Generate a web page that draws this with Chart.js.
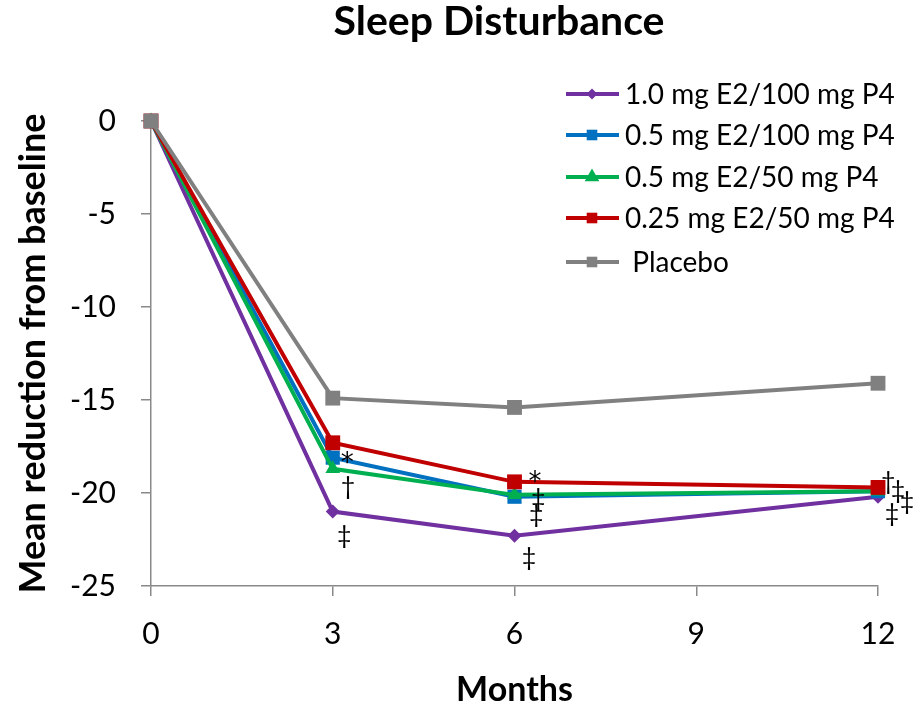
<!DOCTYPE html>
<html>
<head>
<meta charset="utf-8">
<script src="https://cdn.jsdelivr.net/npm/chart.js@4.4.1/dist/chart.umd.min.js"></script>
<style>
  html, body { margin: 0; padding: 0; background: #fff; }
  #wrap { width: 920px; height: 707px; }
</style>
</head>
<body>
<div id="wrap"><canvas id="c" width="920" height="707"></canvas></div>
<script>
// Months of follow-up
const months = [0, 3, 6, 12];

// Mean reduction from baseline per treatment group
const e2_10_p4_100 = [0, -21.0, -22.3, -20.2];
const e2_05_p4_100 = [0, -18.1, -20.2, -19.9];
const e2_05_p4_50  = [0, -18.7, -20.1, -19.9];
const e2_025_p4_50 = [0, -17.3, -19.4, -19.7];
const placebo      = [0, -14.9, -15.4, -14.1];

const seriesNames = [
  '1.0 mg E2/100 mg P4',
  '0.5 mg E2/100 mg P4',
  '0.5 mg E2/50 mg P4',
  '0.25 mg E2/50 mg P4',
  ' Placebo'
];

// Axis ticks
const monthTicks = [0, 3, 6, 9, 12];
const valueTicks = [0, -5, -10, -15, -20, -25];

// Significance marks: [month, value, symbol]
const sigMarks = [
  [3.24, -18.2, '*'], [3.25, -19.7, '†'], [3.19, -22.3, '‡'],
  [6.34, -19.2, '*'], [6.39, -20.3, '‡'], [6.36, -21.2, '‡'], [6.24, -23.5, '‡'],
  [12.17, -19.4, '†'], [12.33, -19.9, '‡'], [12.48, -20.5, '‡'], [12.23, -21.1, '‡']
];

const FONT = 'Lato, "Open Sans", "Liberation Sans", sans-serif';

// marker style per group: plot radius and legend radius
const styles = [
  { color: '#7030A0', point: 'rectRot',  radius: 7,   legendRadius: 5.5 },
  { color: '#0070C0', point: 'rect',     radius: 10,  legendRadius: 7.5 },
  { color: '#00B050', point: 'triangle', radius: 8.5, legendRadius: 8.5 },
  { color: '#C00000', point: 'rect',     radius: 10.5, legendRadius: 7.5 },
  { color: '#808080', point: 'rect',     radius: 10.5, legendRadius: 7.5 }
];

const allSeries = [e2_10_p4_100, e2_05_p4_100, e2_05_p4_50, e2_025_p4_50, placebo];

const datasets = allSeries.map((vals, i) => ({
  label: seriesNames[i],
  data: months.map((m, j) => ({ x: m, y: vals[j] })),
  borderColor: styles[i].color,
  backgroundColor: styles[i].color,
  borderWidth: 4,
  pointStyle: styles[i].point,
  pointRadius: styles[i].radius,
  pointHoverRadius: styles[i].radius,
  pointBorderWidth: 0,
  tension: 0,
  clip: false,
  order: allSeries.length - i   // later groups are painted on top
}));

// Title, legend and significance marks
const decorations = {
  id: 'decorations',
  afterDatasetsDraw(chart) {
    const { ctx, scales: { x, y } } = chart;
    ctx.save();
    ctx.fillStyle = '#000';
    ctx.textAlign = 'center';
    ctx.textBaseline = 'middle';
    sigMarks.forEach(([m, v, s]) => {
      const px = x.getPixelForValue(m), py = y.getPixelForValue(v);
      if (s === '*') {
        ctx.font = '26px "DejaVu Sans", sans-serif';
        ctx.fillText(s, px, py + 5);
      } else {
        ctx.font = '25px ' + FONT;
        ctx.fillText(s, px, py);
      }
    });
    ctx.restore();
  },
  afterDraw(chart) {
    const { ctx } = chart;
    ctx.save();
    // title
    ctx.fillStyle = '#000';
    ctx.font = 'bold 41px ' + FONT;
    ctx.textAlign = 'center';
    ctx.textBaseline = 'middle';
    ctx.fillText('Sleep Disturbance', 499, 22);

    // legend
    const rowY = [94, 135, 177, 218, 262];
    ctx.font = '28px ' + FONT;
    ctx.textAlign = 'left';
    seriesNames.forEach((name, i) => {
      const st = styles[i];
      const yy = rowY[i];
      ctx.strokeStyle = st.color;
      ctx.lineWidth = 4;
      ctx.beginPath();
      ctx.moveTo(566, yy);
      ctx.lineTo(619, yy);
      ctx.stroke();
      ctx.fillStyle = st.color;
      Chart.helpers.drawPoint(ctx, {
        pointStyle: st.point, radius: st.legendRadius, rotation: 0, borderWidth: 0
      }, 592, yy);
      ctx.fillStyle = '#000';
      ctx.fillText(name, 625, yy + 1);
    });
    ctx.restore();
  }
};

new Chart(document.getElementById('c'), {
  type: 'line',
  data: { datasets },
  plugins: [decorations],
  options: {
    responsive: false,
    animation: false,
    events: [],
    layout: { padding: { top: 121, right: 42, left: 0, bottom: 0 } },
    plugins: { legend: { display: false }, tooltip: { enabled: false }, title: { display: false } },
    scales: {
      x: {
        type: 'linear',
        min: 0, max: 12,
        afterFit(s) { s.height = 121; },
        afterBuildTicks(s) { s.ticks = monthTicks.map(v => ({ value: v })); },
        border: { color: '#898989', width: 1.5 },
        grid: { drawOnChartArea: false, drawTicks: true, tickLength: 10, color: '#898989', lineWidth: 1.5 },
        ticks: { color: '#000', padding: 20, font: { family: FONT, size: 30 }, maxRotation: 0 },
        title: {
          display: true, text: 'Months', color: '#000',
          font: { family: FONT, size: 34, weight: 'bold', lineHeight: 1 }, padding: { top: 0, bottom: 0 }
        }
      },
      y: {
        min: -25, max: 0,
        afterFit(s) { s.width = 151; },
        afterBuildTicks(s) { s.ticks = valueTicks.map(v => ({ value: v })); },
        border: { color: '#898989', width: 1.5 },
        grid: { drawOnChartArea: false, drawTicks: true, tickLength: 10, color: '#898989', lineWidth: 1.5 },
        ticks: { color: '#000', padding: 25, font: { family: FONT, size: 30 } },
        title: {
          display: true, text: 'Mean reduction from baseline', color: '#000',
          font: { family: FONT, size: 36, weight: 'bold', lineHeight: 1 }, padding: { top: 15, bottom: 0 }
        }
      }
    }
  }
});
</script>
</body>
</html>
